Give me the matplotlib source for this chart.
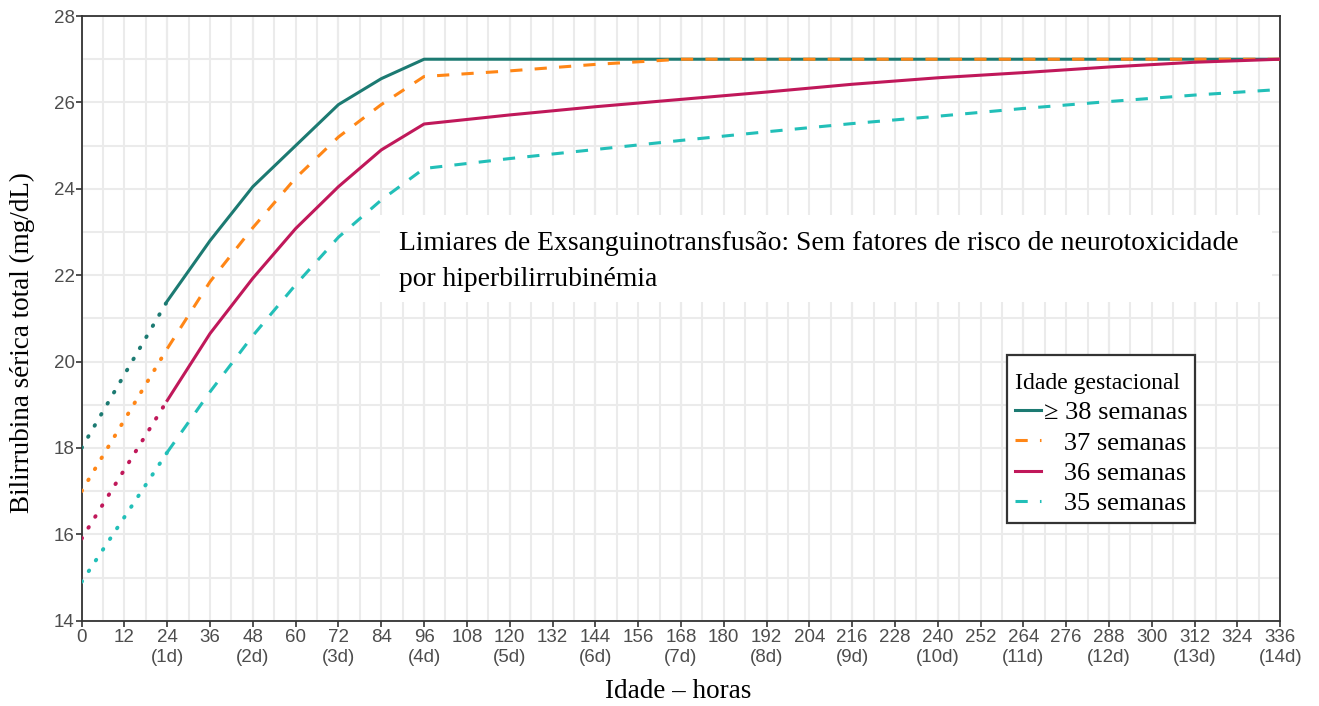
import matplotlib
matplotlib.use("Agg")
import matplotlib.pyplot as plt
from matplotlib.lines import Line2D
from matplotlib.patches import Rectangle
from matplotlib.ticker import MultipleLocator, FixedLocator

# ---- data: exchange-transfusion thresholds (mg/dL) by postnatal age (hours)
birth_hours = [0, 24]

ga38_birth = [18.0, 21.4]
ga37_birth = [17.0, 20.3]
ga36_birth = [15.9, 19.1]
ga35_birth = [14.9, 17.9]

ga38_hours = [24, 36, 48, 60, 72, 84, 96, 336]
ga38_vals = [21.4, 22.8, 24.05, 25.0, 25.95, 26.55, 27.0, 27.0]

ga37_hours = [24, 36, 48, 60, 72, 84, 96, 120, 144, 168, 336]
ga37_vals = [20.3, 21.85, 23.1, 24.25, 25.2, 25.95, 26.6, 26.73, 26.88, 27.0, 27.0]

ga36_hours = [24, 36, 48, 60, 72, 84, 96, 120, 144, 168, 192, 216, 240, 264, 288, 312, 336]
ga36_vals = [19.1, 20.65, 21.93, 23.08, 24.05, 24.9, 25.5, 25.71, 25.9, 26.07, 26.24,
             26.42, 26.57, 26.69, 26.82, 26.93, 27.0]

ga35_hours = [24, 36, 48, 60, 72, 84, 96, 120, 144, 168, 192, 216, 240, 264, 288, 312, 336]
ga35_vals = [17.9, 19.3, 20.6, 21.78, 22.88, 23.74, 24.47, 24.7, 24.91, 25.12, 25.32,
             25.51, 25.68, 25.86, 26.02, 26.17, 26.3]

legend_labels = ["\u2265 38 semanas", "   37 semanas", "   36 semanas", "   35 semanas"]
x_ticks = list(range(0, 337, 12))
y_ticks = [14, 16, 18, 20, 22, 24, 26, 28]

title_lines = ["Limiares de Exsanguinotransfus\u00e3o: Sem fatores de risco de neurotoxicidade",
               "por hiperbilirrubin\u00e9mia"]

# ---- styling
colors = ["#1C7A72", "#FF8616", "#C0185A", "#22BFB8"]
styles = ["-", (0, (4, 4)), "-", (0, (4, 4))]
LW = 2.2
serif = ["Liberation Serif", "DejaVu Serif"]
sans = ["Liberation Sans", "DejaVu Sans"]
tick_color = "#4D4D4D"

fig = plt.figure(figsize=(13.19, 7.06), dpi=100)
ax = fig.add_axes([0.0619, 0.1208, 0.9087, 0.8565])
ax.set_xlim(0, 336)
ax.set_ylim(14, 28)

# grid
ax.xaxis.set_major_locator(FixedLocator(x_ticks))
ax.xaxis.set_minor_locator(MultipleLocator(6))
ax.yaxis.set_major_locator(FixedLocator(y_ticks))
ax.yaxis.set_minor_locator(MultipleLocator(1))
ax.grid(which="both", color="#EBEBEB", lw=1.5, zorder=0)
ax.set_axisbelow(True)
for h in range(24, 336, 24):
    ax.axvline(h, color="#D2D2D2", lw=1.5, zorder=0.5)

# caption panel
ax.add_patch(Rectangle((83.7, 21.38), 250.0, 2.01, facecolor="white",
                       edgecolor="none", zorder=1))
ax.text(88.95, 22.74, title_lines[0], family=serif, fontsize=19.9, va="center",
        ha="left", zorder=2)
ax.text(88.95, 21.91, title_lines[1], family=serif, fontsize=19.9, va="center",
        ha="left", zorder=2)

# curves
births = [ga38_birth, ga37_birth, ga36_birth, ga35_birth]
hours = [ga38_hours, ga37_hours, ga36_hours, ga35_hours]
vals = [ga38_vals, ga37_vals, ga36_vals, ga35_vals]
for b, h, v, c, s in zip(births, hours, vals, colors, styles):
    ax.plot(birth_hours, b, color=c, lw=2.8, linestyle=(0, (0.2, 3.1)),
            dash_capstyle="round", zorder=3)
    ax.plot(h, v, color=c, lw=LW, linestyle=s, zorder=3)

# ticks
xlabels = []
for h in x_ticks:
    if h > 0 and h % 24 == 0:
        xlabels.append(f"{h}\n({h // 24}d)")
    else:
        xlabels.append(f"{h}")
ax.set_xticklabels(xlabels)
ax.tick_params(which="major", length=4, width=1.2, color="#333333",
               labelcolor=tick_color, labelsize=13.5, pad=2)
ax.tick_params(which="minor", length=0)
for lab in ax.get_xticklabels() + ax.get_yticklabels():
    lab.set_family(sans)
ax.tick_params(axis="y", pad=1)

for sp in ax.spines.values():
    sp.set_color("#333333")
    sp.set_linewidth(1.3)

# axis titles
fig.text(22 / 1319, 1 - 343 / 706, "Bilirrubina s\u00e9rica total (mg/dL)", family=serif,
         fontsize=19.5, rotation=90, ha="center", va="center")
fig.text(678 / 1319, 1 - 692 / 706, "Idade \u2013 horas", family=serif, fontsize=19.5,
         ha="center", va="center")

# legend: separate frame so the padding around the title can be set freely
ax.add_patch(Rectangle((0.7721, 0.1616), 0.1568, 0.2778, transform=ax.transAxes,
                       facecolor="white", edgecolor="#333333", lw=1.6, zorder=4.5))
handles = [Line2D([], [], color=c, lw=LW, linestyle=s) for c, s in zip(colors, styles)]
leg = ax.legend(handles, legend_labels, title="Idade gestacional",
                loc="upper left", bbox_to_anchor=(0.7725, 0.4229),
                prop={"family": serif, "size": 19},
                title_fontproperties={"family": serif, "size": 17},
                frameon=False, handlelength=0.95, handletextpad=0.12,
                labelspacing=0.26, borderpad=0.3, borderaxespad=0)
leg.set_zorder(5)
leg._legend_box.align = "left"

fig.savefig("out.png", dpi=100)
